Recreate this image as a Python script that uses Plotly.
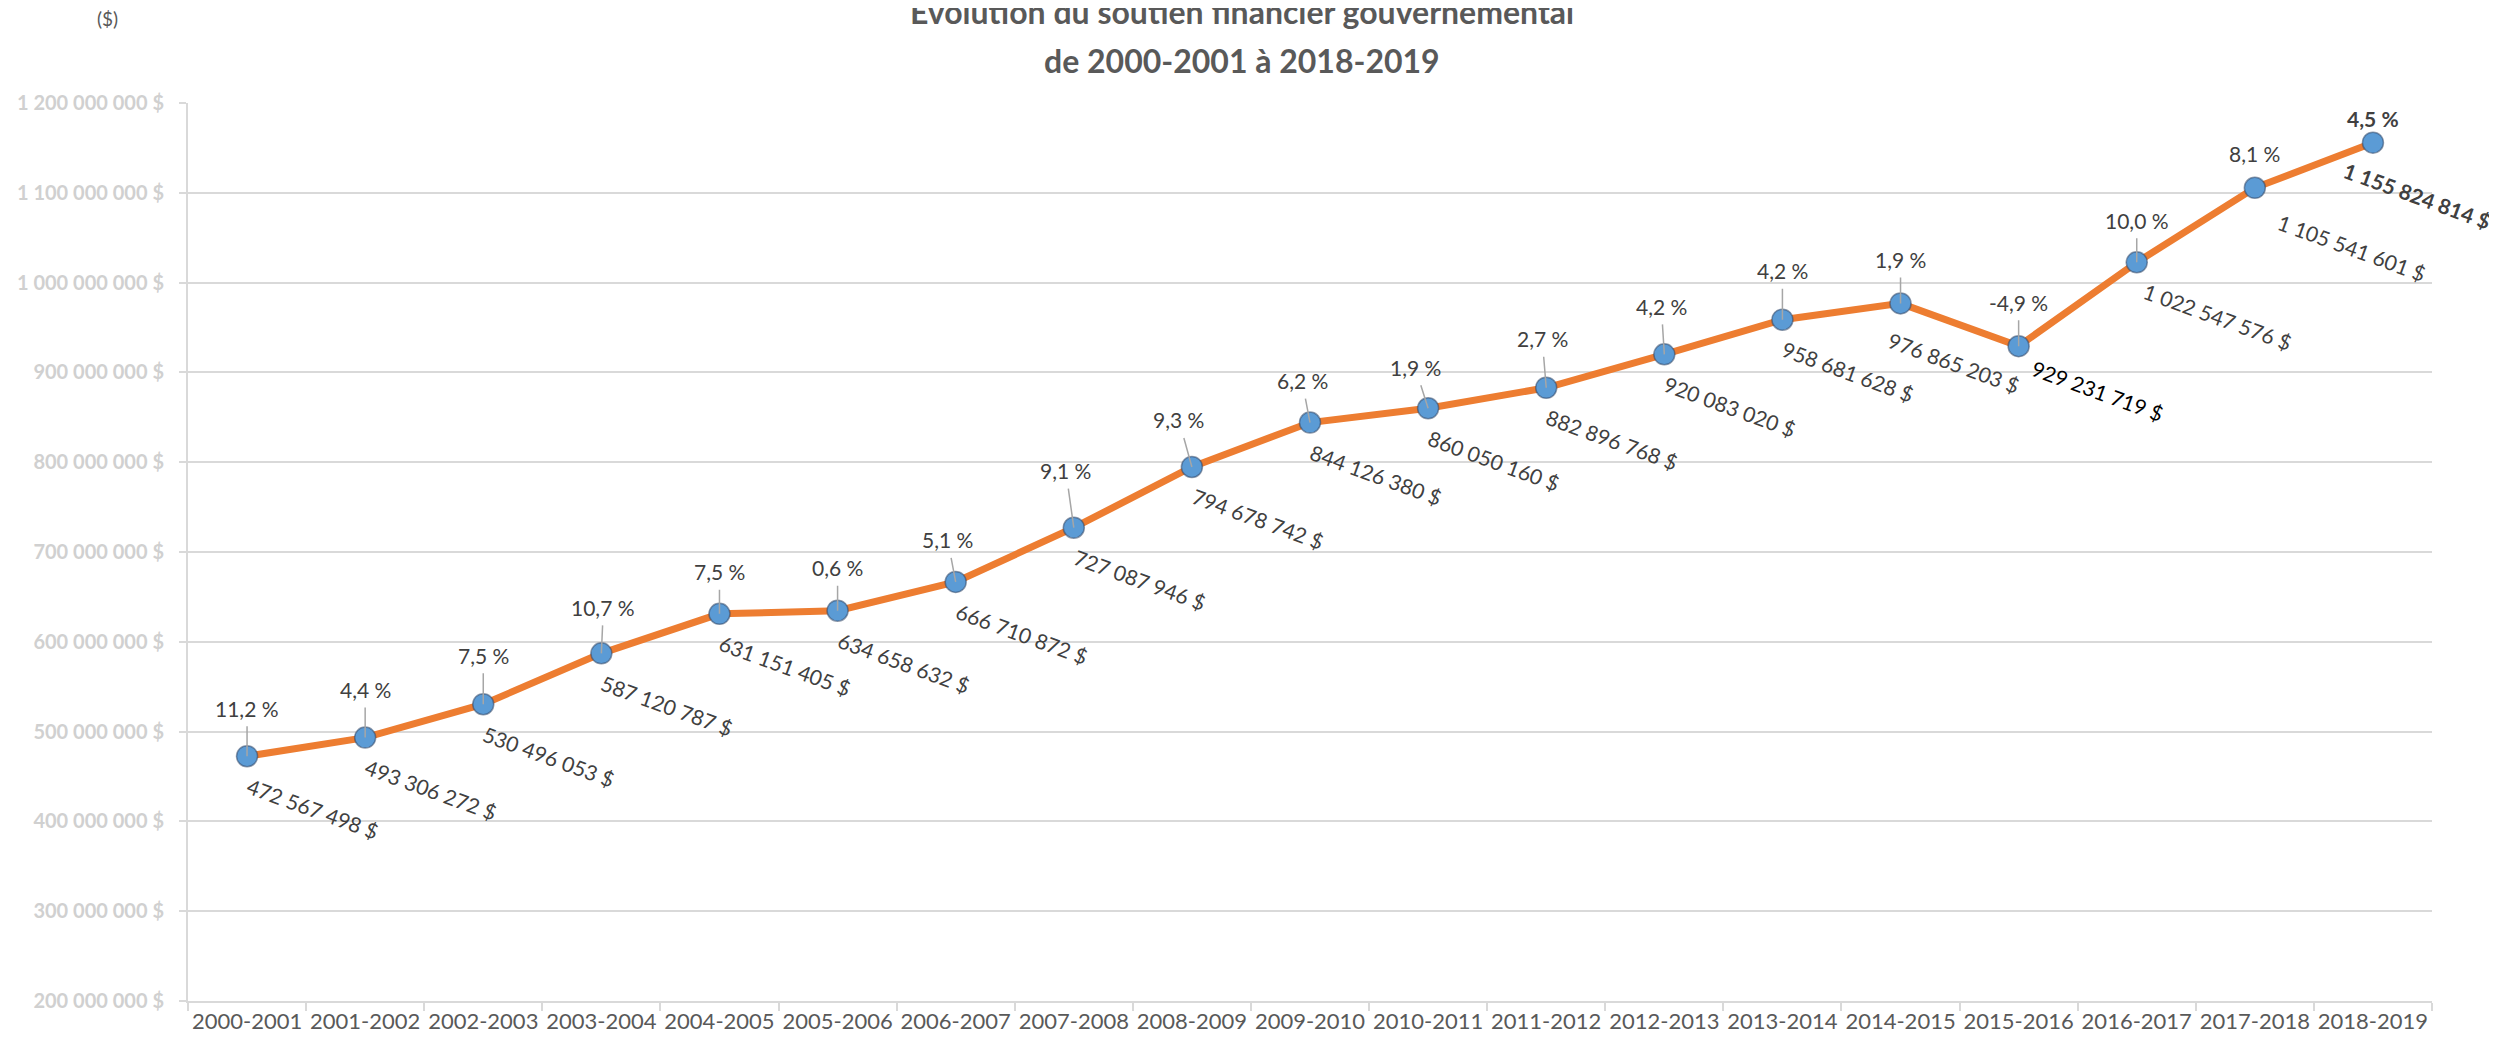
import plotly.graph_objects as go

# ---- data ----
years = ["2000-2001", "2001-2002", "2002-2003", "2003-2004", "2004-2005", "2005-2006",
         "2006-2007", "2007-2008", "2008-2009", "2009-2010", "2010-2011", "2011-2012",
         "2012-2013", "2013-2014", "2014-2015", "2015-2016", "2016-2017", "2017-2018",
         "2018-2019"]
soutien = [472567498, 493306272, 530496053, 587120787, 631151405, 634658632,
           666710872, 727087946, 794678742, 844126380, 860050160, 882896768,
           920083020, 958681628, 976865203, 929231719, 1022547576, 1105541601,
           1155824814]
variation = ["11,2", "4,4", "7,5", "10,7", "7,5", "0,6", "5,1", "9,1", "9,3", "6,2",
             "1,9", "2,7", "4,2", "4,2", "1,9", "-4,9", "10,0", "8,1", "4,5"]
y_ticks = [200000000, 300000000, 400000000, 500000000, 600000000, 700000000,
           800000000, 900000000, 1000000000, 1100000000, 1200000000]

# ---- label placement (pixel offsets, layout only) ----
pct_dx = [0, 0, 0, 2, 0, 0, -8, -8, -13, -8, -13, -4, -3, 0, 0, 0, 0, 0, 0]
pct_dy = [-48, -48, -49, -46, -42, -43, -42, -57, -47, -42, -41, -49, -48, -49, -44, -44, -42, -34, -24]
val_dx = [66] * 14 + [53, 79, 81, 97, 44]
val_dy = [52] * 14 + [59, 44, 54, 60, 53]


def money(v):
    return f"{v:,}".replace(",", " ") + " $"


# the page body has an 8 px margin, so the figure is a bit smaller and shifted
OFF = 8
W, H = 2497 - OFF, 1045 - OFF
L, R, T, B = 188 - OFF, 65, 103 - OFF, 44
PW, PH = W - L - R, H - T - B


def px(page_x):
    return (page_x - OFF - L) / PW


def py(page_y):
    return 1 + (T - (page_y - OFF)) / PH


FONT = "Lato"
TXT = "#404040"

fig = go.Figure()
fig.add_trace(go.Scatter(
    x=years, y=soutien, mode="lines+markers",
    line=dict(color="#ED7D31", width=7),
    marker=dict(size=21, color="#5B9BD5", line=dict(color="rgba(50,70,100,0.55)", width=1.5)),
    hoverinfo="skip", showlegend=False, cliponaxis=False,
))

ann = []
n = len(years)
for i in range(n):
    last = i == n - 1
    ann.append(dict(
        x=years[i], y=soutien[i], xref="x", yref="y",
        text=(f"<b>{variation[i]} %</b>" if last else f"{variation[i]} %"),
        showarrow=i < n - 2,
        ax=pct_dx[i], ay=pct_dy[i], axref="pixel", ayref="pixel",
        arrowhead=0, arrowwidth=1.5, arrowcolor="#A6A6A6", standoff=0,
        borderpad=5,
        xshift=0 if i < n - 2 else pct_dx[i],
        yshift=0 if i < n - 2 else -pct_dy[i],
        font=dict(family=FONT, size=21, color=TXT),
    ))
    vtxt = money(soutien[i])
    col = TXT
    if last:
        vtxt = f"<b>{vtxt}</b>"
    if i == 15:
        col = "#000000"
    ann.append(dict(
        x=years[i], y=soutien[i], xref="x", yref="y",
        text=vtxt, showarrow=False, textangle=20,
        xanchor="center", yanchor="middle",
        xshift=val_dx[i], yshift=-val_dy[i],
        font=dict(family=FONT, size=21, color=col),
    ))

# titles and unit label
ann.append(dict(
    x=px(1242), y=py(11), xref="paper", yref="paper",
    text="<b>Évolution du soutien financier gouvernemental</b>", showarrow=False,
    xanchor="center", yanchor="middle",
    font=dict(family=FONT, size=32, color="#595959"),
))
ann.append(dict(
    x=px(1242), y=py(61), xref="paper", yref="paper",
    text="<b>de 2000-2001 à 2018-2019</b>", showarrow=False,
    xanchor="center", yanchor="middle",
    font=dict(family=FONT, size=32, color="#595959"),
))
ann.append(dict(
    x=px(107), y=py(19), xref="paper", yref="paper",
    text="($)", showarrow=False, xanchor="center", yanchor="middle",
    font=dict(family=FONT, size=19, color="#595959"),
))

fig.update_layout(
    width=W, height=H,
    margin=dict(l=L, r=R, t=T, b=B, pad=0, autoexpand=False),
    paper_bgcolor="white", plot_bgcolor="white",
    annotations=ann,
    font=dict(family=FONT),
)
fig.update_xaxes(
    type="category", categoryorder="array", categoryarray=years,
    range=[-0.5, n - 0.5], automargin=False, tickangle=0,
    showgrid=False, showline=True, linecolor="#D9D9D9", linewidth=2,
    ticks="outside", tickson="boundaries", ticklen=8, tickcolor="#D9D9D9", tickwidth=2,
    tickfont=dict(family=FONT, size=22, color="#595959"),
    zeroline=False,
)
fig.update_yaxes(
    range=[200000000, 1200000000], automargin=False,
    tickvals=y_ticks, ticktext=[f"<b>{money(v)}</b>" for v in y_ticks],
    showgrid=True, gridcolor="#D9D9D9", gridwidth=2,
    showline=True, linecolor="#D9D9D9", linewidth=2,
    ticks="outside", ticklen=7, tickcolor="#D9D9D9", tickwidth=2,
    ticklabelstandoff=11,
    tickfont=dict(family=FONT, size=20, color="#D0D0D0"),
    zeroline=False,
)

fig.write_html("out.html")
